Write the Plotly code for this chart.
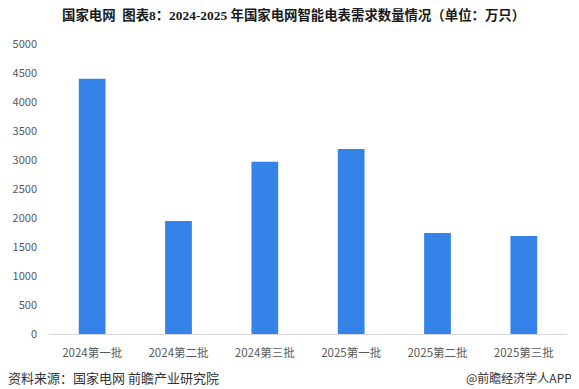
import plotly.graph_objects as go

categories = ["2024第一批", "2024第二批", "2024第三批", "2025第一批", "2025第二批", "2025第三批"]
values = [4400, 1950, 2970, 3190, 1740, 1690]
y_ticks = [0, 500, 1000, 1500, 2000, 2500, 3000, 3500, 4000, 4500, 5000]

# the page body adds an 8px margin, so the figure is sized and placed to compensate
OFF = 8
W, H = 579 - OFF, 389 - OFF
L, R, T, B = 49 - OFF, 12, 44 - OFF, 55
PW, PH = W - L - R, H - T - B


def px(x):
    return (x - OFF - L) / PW


def py(y):
    return 1 - (y - OFF - T) / PH


fig = go.Figure()
fig.add_trace(go.Bar(
    x=categories, y=values,
    marker=dict(color="#3583E8", line=dict(width=0)),
    width=0.31,
))

fig.update_layout(
    width=W, height=H,
    margin=dict(l=L, r=R, t=T, b=B, autoexpand=False),
    paper_bgcolor="white", plot_bgcolor="white",
    showlegend=False,
    font=dict(family="Noto Sans CJK SC, sans-serif", size=11, color="#595959"),
    xaxis=dict(
        showline=True, linecolor="#d9d9d9", linewidth=1, automargin=False,
        showgrid=False, ticks="", tickfont=dict(size=11.5, color="#595959"),
        ticklabelstandoff=8,
    ),
    yaxis=dict(
        range=[0, 5000], tickvals=y_ticks, showgrid=False, zeroline=False,
        showline=False, ticks="", tickfont=dict(size=11, color="#595959"),
        ticklabelstandoff=11, automargin=False,
    ),
)

fig.add_annotation(
    text="<b>国家电网  图表8：2024-2025 年国家电网智能电表需求数量情况（单位：万只）</b>",
    xref="paper", yref="paper", x=px(293), y=py(15), xanchor="center", yanchor="middle",
    showarrow=False,
    font=dict(family="Liberation Serif, Noto Sans CJK SC, serif", size=13.4, color="#1a1a1a"),
)
fig.add_annotation(
    text="资料来源：国家电网 前瞻产业研究院",
    xref="paper", yref="paper", x=px(6), y=py(377),
    xanchor="left", yanchor="middle", showarrow=False,
    font=dict(family="Noto Sans CJK SC, sans-serif", size=13, color="#333333"),
)
fig.add_annotation(
    text="@前瞻经济学人APP",
    xref="paper", yref="paper", x=px(574), y=py(377),
    xanchor="right", yanchor="middle", showarrow=False,
    font=dict(family="Noto Sans CJK SC, sans-serif", size=12, color="#333333"),
)

fig.write_html("out.html")
